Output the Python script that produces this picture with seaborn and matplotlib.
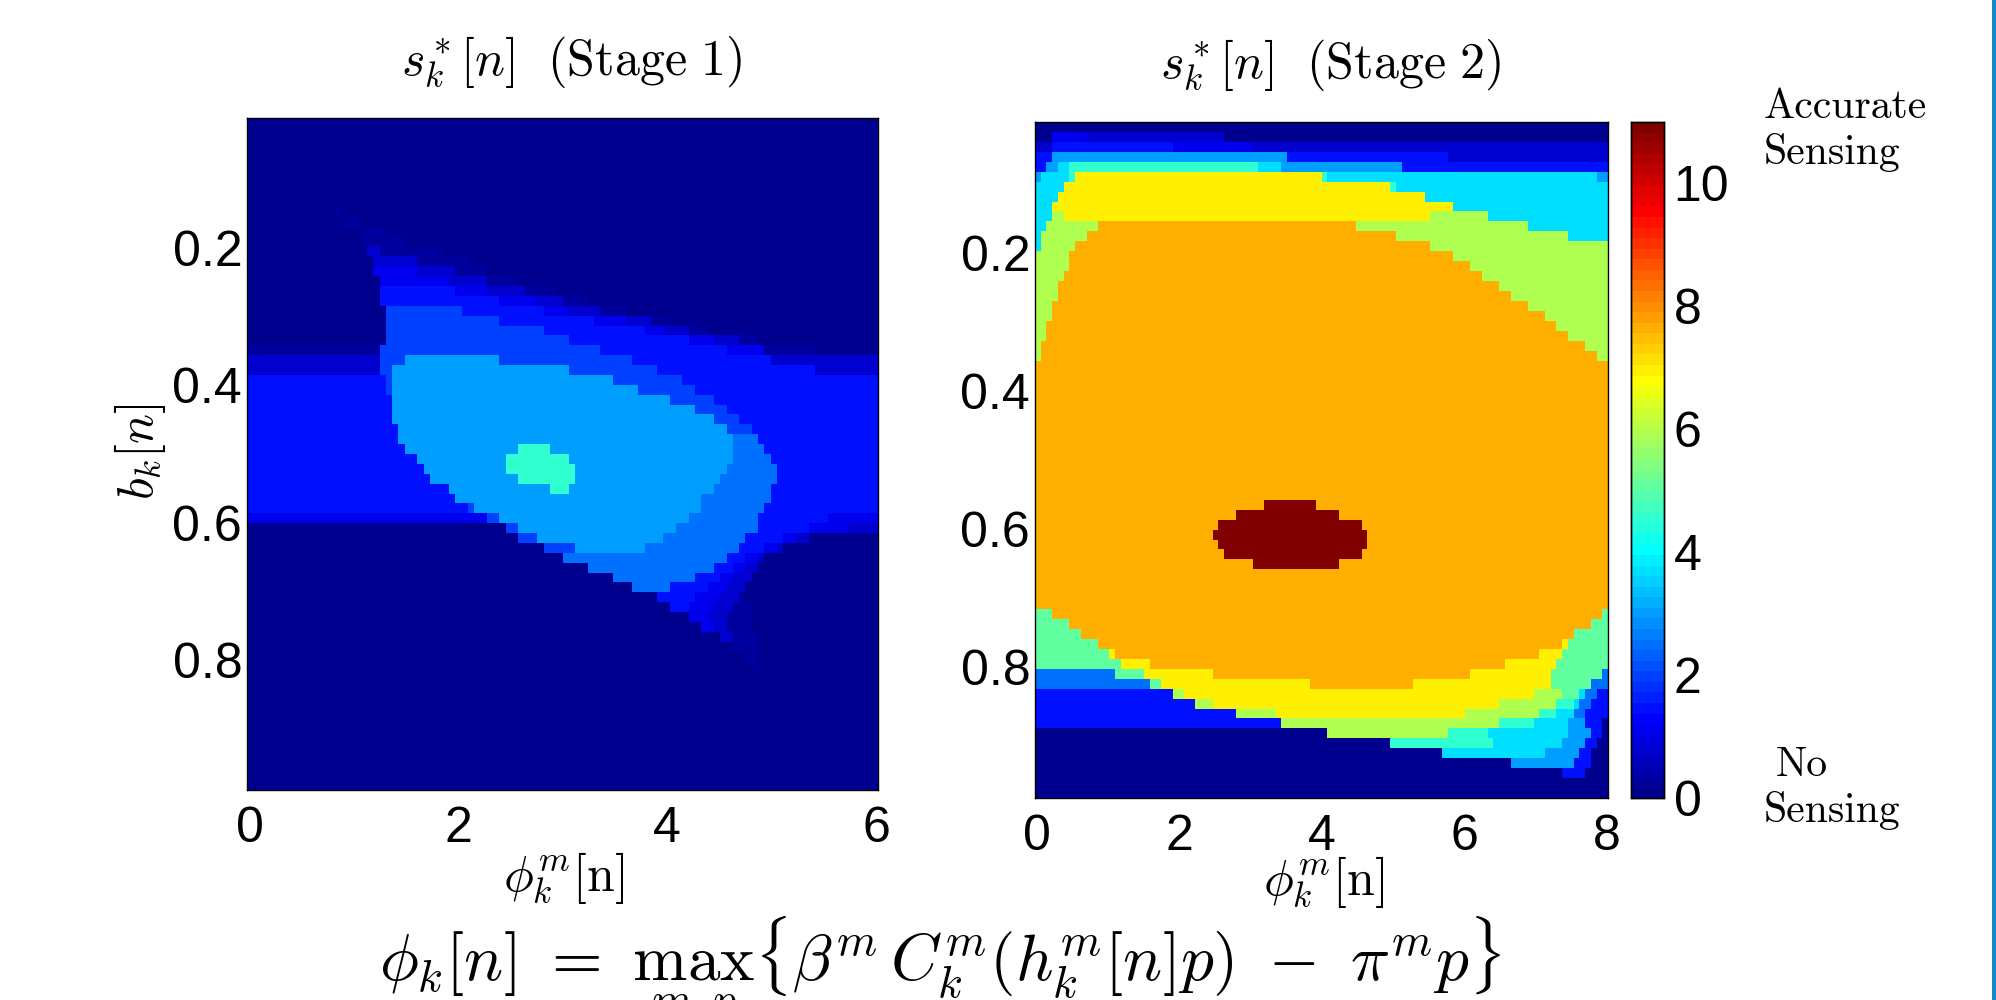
import numpy as np
import matplotlib
matplotlib.use("Agg")
import matplotlib.pyplot as plt
from matplotlib.colors import ListedColormap
from matplotlib.patches import Rectangle
import seaborn as sns

# sensing level carried by each letter in the run-length rows below
LEVELS = dict(a=0.0, b=0.2, c=0.7, d=1.1, e=1.4, f=2.06, g=2.57, h=3.09, i=3.78,
              j=4.47, k=5.15, l=6.0, m=6.95, n=7.73, o=11.0)

# each row: runs of "<level><end column>" over 100 columns, 68 rows from top to bottom
STAGE1_ROWS = ["a100"] * 9 + [
    "a14 b15 a100", "a15 b18 a100", "a18 b22 a100", "a18 b25 a100", "a19 c21 b31 a100",
    "a20 c27 b35 a100", "a20 d27 c33 b38 a100", "a21 d32 c38 b43 a100",
    "a21 e33 d38 c44 b49 a100", "a21 e40 d46 c50 b54 a100", "a22 f34 e47 d51 c56 b60 a100",
    "a22 f40 e55 d60 c64 b67 a100", "a22 f47 e63 d66 c70 b73 a100",
    "a22 f51 e70 d74 c78 b81 a100", "b21 f56 e76 d82 b90 a100", "c21 f25 h40 f61 e83 c100",
    "c21 f23 h51 f65 e90 c100", "e22 f23 h58 f69 e100", "e22 f23 h62 f71 e100",
    "e23 h67 f74 e100", "e23 h71 f76 e100", "e23 h74 f78 e100", "e24 h76 f80 e100",
    "e24 h77 g81 e100", "e25 h43 j48 h77 g82 e100", "e27 h41 j51 h77 g83 e100",
    "e28 h41 j52 h76 g84 e100", "e29 h43 j52 h75 g84 e100", "e32 h48 j51 h74 g83 e100",
    "e33 h72 g83 e100", "e35 f36 h72 g82 e100", "d38 f40 h70 g81 e92 d100",
    "a41 f43 h68 g81 e89 d95 c100", "a43 f46 h66 g79 e85 d87 c89 a100",
    "a47 f52 h63 g78 e82 d84 c85 a100", "a50 g76 e79 d81 c82 a100", "a54 g74 e77 d79 c81 a100",
    "a58 g71 e75 d77 c80 a100", "a61 g67 e73 d76 c79 a100", "a65 e71 d75 c78 b79 a100",
    "a67 e70 d74 c77 b80 a100", "a70 d73 c76 b80 a100", "a72 d74 c76 b80 a100",
    "a75 c77 b81 a100", "a77 b81 a100", "a79 b81 a100", "a80 b81 a100",
] + ["a100"] * 12

STAGE2_ROWS = [
    "a100", "a3 d9 c33 a100", "c3 e24 d38 c100", "e3 h44 e72 c100", "e2 h4 i6 j39 i43 h64 e100",
    "h1 i6 j7 m50 j51 i98 h100", "i5 m62 j63 i100", "i4 m68 i100", "i3 m73 i100",
    "i3 l5 m69 l79 i100", "i2 l11 n56 l86 i100", "i1 l9 n63 l93 i100", "i1 l7 n69 l100",
    "l6 n73 l100", "l6 n76 l100", "l5 n78 l100", "l4 n81 l100", "l4 n83 l100", "l3 n86 l100",
    "l3 n89 l100", "l2 n91 l100", "l2 n93 l100", "l1 n96 l100", "l1 n98 l100",
] + ["n100"] * 14 + [
    "n40 o49 n100", "n35 o53 n100", "n32 o57 n100", "n31 o58 n100", "n32 o58 n100",
    "n33 o57 n100", "n38 o53 n100", "n100", "n100", "n100", "n100",
    "k3 n99 k100", "k6 n97 k100", "k8 n94 k100", "k11 n92 m93 k100", "k13 m14 n88 m92 k100",
    "k15 m20 n82 m91 k100", "g14 k19 m31 n76 m90 k99 g100", "g20 k22 m48 n66 m90 k97 g100",
    "e24 l26 m87 l92 k95 i96 g98 e100", "e28 l31 m81 l91 j94 i95 g97 e100",
    "e35 l42 m75 l88 j91 i94 g96 e100", "e43 l81 j87 i93 h96 e99 a100",
    "a51 l72 j79 i93 h97 e99 a100", "a62 j80 i92 h96 e98 a100", "a71 i89 h95 e97 a100",
    "a83 h94 e97 a100", "a92 e96 a100", "a100", "a100",
]

STAGE1_X_TICKS = [0, 2, 4, 6]
STAGE2_X_TICKS = [0, 2, 4, 6, 8]
B_TICKS = [0.2, 0.4, 0.6, 0.8]
CBAR_TICKS = [0, 2, 4, 6, 8, 10]


def grid(rows):
    out = np.zeros((len(rows), 100))
    for r, row in enumerate(rows):
        start = 0
        for run in row.split():
            end = int(run[1:])
            out[r, start:end] = LEVELS[run[0]]
            start = end
    return out


sns.set_theme(style="white")
plt.rcParams.update({
    "font.family": ["Liberation Sans", "DejaVu Sans"],
    "mathtext.fontset": "cm",
    "text.color": "black",
    "xtick.color": "black",
    "ytick.color": "black",
    "axes.labelcolor": "black",
})

t = (np.arange(64) + 1) / 64
jet64 = np.clip(np.column_stack([np.minimum(4 * t - 1.5, 4.5 - 4 * t),
                                 np.minimum(4 * t - 0.5, 3.5 - 4 * t),
                                 np.minimum(4 * t + 0.5, 2.5 - 4 * t)]), 0, 1)
cmap = ListedColormap(jet64)

W, H = 1996, 1000
fig = plt.figure(figsize=(W / 100, H / 100), dpi=100, facecolor="white")


def box(x0, y0, x1, y1):
    return [x0 / W, 1 - y1 / H, (x1 - x0) / W, (y1 - y0) / H]


def put(x, y, s, **kw):
    kw.setdefault("ha", "center")
    kw.setdefault("va", "center")
    fig.text(x / W, 1 - y / H, s, **kw)


ax1 = fig.add_axes(box(247, 118, 878, 790))
ax2 = fig.add_axes(box(1035, 122, 1608, 798))
cax = fig.add_axes(box(1631, 122, 1664, 798))

data1, data2 = grid(STAGE1_ROWS), grid(STAGE2_ROWS)
sns.heatmap(data1, ax=ax1, cmap=cmap, vmin=0, vmax=11, cbar=False,
            xticklabels=False, yticklabels=False, rasterized=True)
sns.heatmap(data2, ax=ax2, cmap=cmap, vmin=0, vmax=11, cbar=True, cbar_ax=cax,
            xticklabels=False, yticklabels=False, rasterized=True)

for ax, data, xticks, xmax in ((ax1, data1, STAGE1_X_TICKS, 6), (ax2, data2, STAGE2_X_TICKS, 8)):
    ax.set_xticks([0.4 + v / xmax * 99.3 for v in xticks])
    ax.set_xticklabels([str(v) for v in xticks], fontsize=36)
    ax.set_yticks([(b - 0.01) / 0.98 * data.shape[0] for b in B_TICKS])
    ax.set_yticklabels([f"{b:.1f}" for b in B_TICKS], fontsize=36, rotation=0)
    ax.tick_params(axis="both", direction="in", length=6, width=0.8, top=True, right=True, bottom=True, left=True,
                   color="black", labelcolor="black")
    ax.tick_params(axis="x", pad=11.5)
    ax.tick_params(axis="y", pad=3.5)
    for s in ax.spines.values():
        s.set_visible(True)
        s.set_color("black")
        s.set_linewidth(1.0)

cax.set_yticks(CBAR_TICKS)
cax.set_yticklabels([str(v) for v in CBAR_TICKS], fontsize=36)
cax.tick_params(axis="y", direction="in", length=6, width=0.8, left=True, right=True, pad=7)
for s in cax.spines.values():
    s.set_visible(True)
    s.set_color("black")
    s.set_linewidth(1.0)

put(572, 62, r"$s_k^*[n]\ \ \mathrm{(Stage\ 1)}$", fontsize=36)
put(1331, 65, r"$s_k^*[n]\ \ \mathrm{(Stage\ 2)}$", fontsize=36)
put(140, 452, r"$b_k[n]$", fontsize=36, rotation=90)
put(564, 878, r"$\phi_k^m\mathrm{[n]}$", fontsize=36)
put(1324, 882, r"$\phi_k^m\mathrm{[n]}$", fontsize=36)
put(940, 970, r"$\phi_k[n]\ =\ \max_{m,p}\{\beta^m C_k^m(h_k^m[n]p)\ -\ \pi^m p\}$", fontsize=47)

for x, y, s in ((1764, 107, "Accurate"), (1764, 153, "Sensing"), (1776, 765, "No"), (1764, 811, "Sensing")):
    put(x, y, s, fontsize=30, ha="left", family="cmr10")

fig.add_artist(Rectangle((1992 / W, 0), 4 / W, 1, transform=fig.transFigure, color="#1a86c8", lw=0))

fig.savefig("out.png", dpi=100)
